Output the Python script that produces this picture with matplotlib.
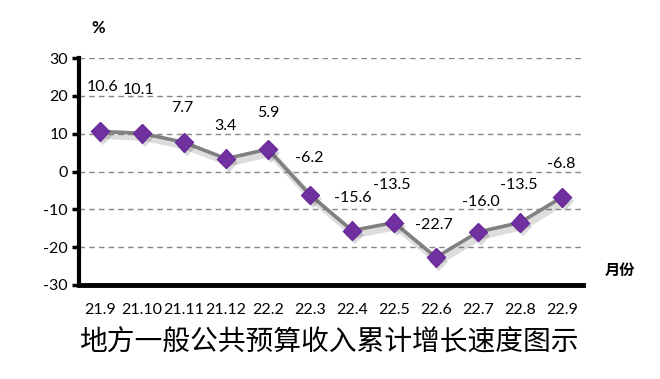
import matplotlib
matplotlib.use("Agg")
import matplotlib.pyplot as plt
import matplotlib.patheffects as pe

plt.rcParams['font.family'] = ['Lato', 'Noto Sans CJK SC', 'DejaVu Sans']

months = ['21.9', '21.10', '21.11', '21.12', '22.2', '22.3', '22.4', '22.5',
          '22.6', '22.7', '22.8', '22.9']
values = [10.6, 10.1, 7.7, 3.4, 5.9, -6.2, -15.6, -13.5, -22.7, -16.0, -13.5, -6.8]
label_offsets = [(3, 44), (-4, 43), (-2, 34), (-1, 33), (0, 36), (-1, 37),
                 (1, 33), (-2, 38), (-2, 32), (3, 30), (-1, 38), (-1, 33)]
yticks = [30, 20, 10, 0, -10, -20, -30]

fig = plt.figure(figsize=(6.6, 3.79), dpi=100)
ax = fig.add_axes([79/660, 1-285/379, (583-79)/660, (285-58)/379])

x = list(range(len(months)))
shadow = [pe.SimpleLineShadow(offset=(2, -3), shadow_color='#444444', alpha=0.18, linewidth=5), pe.Normal()]
ax.plot(x, values, color='#808080', lw=2.6, zorder=3, path_effects=shadow)
ax.plot(x, values, linestyle='none', marker='D', markersize=9.5, color='#7030A0',
        markeredgecolor='#6a2a9a', zorder=4,
        path_effects=[pe.SimplePatchShadow(offset=(2, -3), shadow_rgbFace='#444444', alpha=0.2), pe.Normal()])

for i, (v, (dx, dy)) in enumerate(zip(values, label_offsets)):
    ax.annotate(f'{v:.1f}', (i, v), xytext=(dx, dy), textcoords='offset pixels',
                ha='center', va='center', fontsize=11.5, color='#000000')

ax.set_xlim(-0.5, 11.5)
ax.set_ylim(-30, 30)
ax.set_yticks(yticks)
ax.set_yticklabels([str(t) for t in yticks], fontsize=11.5)
ax.set_xticks(x)
ax.set_xticklabels(months, fontsize=11.5)
ax.tick_params(axis='x', length=0, pad=13)
ax.tick_params(axis='y', length=5, width=2.5, direction='out', pad=3)

for t in yticks[:-1]:
    ax.axhline(t, color='#888888', lw=1, ls=(0, (4, 3)), zorder=1)

for s in ['top', 'right']:
    ax.spines[s].set_visible(False)
ax.spines['left'].set_linewidth(3)
ax.spines['bottom'].set_linewidth(3.5)

fig.text(98/660, 1-28/379, '%', fontsize=12, fontweight='bold', ha='center', va='center')
fig.text(620/660, 1-270/379, '月份', fontsize=11, fontweight='bold', ha='center', va='center',
         family=['Noto Sans CJK SC'])
fig.text(329/660, 1-343/379, '地方一般公共预算收入累计增长速度图示', fontsize=20,
         ha='center', va='center', family=['Noto Sans CJK SC'], color='#000000')

fig.savefig('out.png', dpi=100)
